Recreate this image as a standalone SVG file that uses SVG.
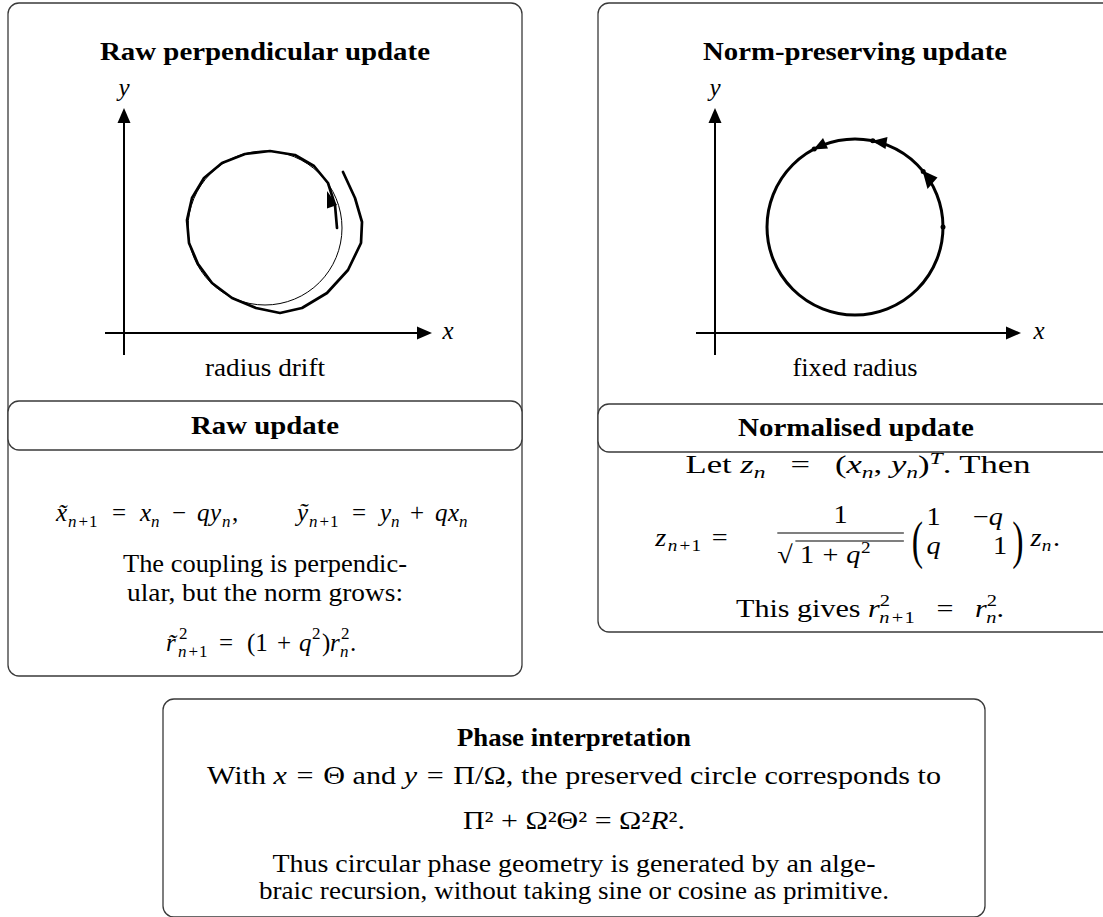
<svg xmlns="http://www.w3.org/2000/svg" width="1103" height="917" viewBox="0 0 1103 917">
<defs>
<style>
.box{fill:#fff;stroke:#3a3a3a;stroke-width:1.3}
.t{font-family:"Liberation Serif","Times New Roman",serif;font-size:25px;fill:#000}
.b{font-weight:bold}
.i{font-style:italic}
.s{font-size:17px}
.ax{stroke:#000;stroke-width:2;fill:none}
.thick{stroke:#000;stroke-width:2.7;fill:none;stroke-linejoin:round;stroke-linecap:round}
.thin{stroke:#000;stroke-width:1;fill:none}
</style>
<marker id="ah" markerUnits="userSpaceOnUse" markerWidth="16" markerHeight="14" refX="5" refY="7" orient="auto">
<path d="M0,0.5 L15,7 L0,13.5 z" fill="#000"/>
</marker>
</defs>
<rect width="1103" height="917" fill="#fff"/>

<g id="panel-raw">
<rect class="box" x="8" y="3" width="514" height="673" rx="11"/>
<text class="t b" x="265" y="60" text-anchor="middle" textLength="330" lengthAdjust="spacingAndGlyphs">Raw perpendicular update</text>
<line class="ax" x1="124" y1="355" x2="124" y2="118" marker-end="url(#ah)"/>
<line class="ax" x1="105" y1="333" x2="422" y2="333" marker-end="url(#ah)"/>
<text class="t i" x="124" y="96" text-anchor="middle">y</text>
<text class="t i" x="448" y="339" text-anchor="middle">x</text>
<circle class="thin" cx="265" cy="228" r="77"/>
<polyline class="thick" points="337,228 335,205 328,183 314,166 295,155 270,151 245,154 222,163 204,178 192,198 187,220 189,243 198,264 212,283 232,298 256,308 280,313 302,308 327,293 348,270 361,243 362,222 355,198 343,172"/>
<polygon points="327,191 337,205 327,208.5" fill="#000"/>
<text class="t" x="265" y="376" text-anchor="middle" textLength="120" lengthAdjust="spacingAndGlyphs">radius drift</text>
</g>

<g id="raw-update">
<rect class="box" x="8" y="401" width="514" height="49" rx="11"/>
<text class="t b" x="265" y="434" text-anchor="middle" textLength="148" lengthAdjust="spacingAndGlyphs">Raw update</text>
<text class="t" y="521"><tspan x="56" class="i">x̃</tspan><tspan x="68" y="527" class="s"><tspan class="i">n</tspan><tspan dx="2">+</tspan><tspan dx="1">1</tspan></tspan><tspan x="112" y="521">=</tspan><tspan x="140" class="i">x</tspan><tspan x="151" y="527" class="s i">n</tspan><tspan x="172" y="521">−</tspan><tspan x="197" class="i">q</tspan><tspan x="210" class="i">y</tspan><tspan x="222" y="527" class="s i">n</tspan><tspan x="232" y="521">,</tspan><tspan x="297" class="i">ỹ</tspan><tspan x="309" y="527" class="s"><tspan class="i">n</tspan><tspan dx="2">+</tspan><tspan dx="1">1</tspan></tspan><tspan x="352" y="521">=</tspan><tspan x="380" class="i">y</tspan><tspan x="391" y="527" class="s i">n</tspan><tspan x="410" y="521">+</tspan><tspan x="435" class="i">q</tspan><tspan x="448" class="i">x</tspan><tspan x="459" y="527" class="s i">n</tspan></text>
<text class="t" x="265" y="572" text-anchor="middle" textLength="284" lengthAdjust="spacingAndGlyphs">The coupling is perpendic-</text>
<text class="t" x="265" y="601" text-anchor="middle" textLength="276" lengthAdjust="spacingAndGlyphs">ular, but the norm grows:</text>
<text class="t" y="651"><tspan x="166" class="i">r̃</tspan><tspan x="179" y="639" class="s">2</tspan><tspan x="178" y="657" class="s"><tspan class="i">n</tspan><tspan dx="2">+</tspan><tspan dx="1">1</tspan></tspan><tspan x="219" y="651">=</tspan><tspan x="247">(1</tspan><tspan x="277">+</tspan><tspan x="299" class="i">q</tspan><tspan x="312" y="639" class="s">2</tspan><tspan x="322" y="651">)</tspan><tspan x="330" class="i">r</tspan><tspan x="341" y="639" class="s">2</tspan><tspan x="340" y="657" class="s i">n</tspan><tspan x="350" y="651">.</tspan></text>
</g>

<g id="panel-norm">
<rect class="box" x="598" y="3" width="520" height="629" rx="11"/>
<text class="t b" x="855" y="60" text-anchor="middle" textLength="304" lengthAdjust="spacingAndGlyphs">Norm-preserving update</text>
<line class="ax" x1="715" y1="355" x2="715" y2="118" marker-end="url(#ah)"/>
<line class="ax" x1="696" y1="333" x2="1011" y2="333" marker-end="url(#ah)"/>
<text class="t i" x="715" y="96" text-anchor="middle">y</text>
<text class="t i" x="1039" y="339" text-anchor="middle">x</text>
<circle cx="855" cy="227" r="88" fill="none" stroke="#000" stroke-width="3"/>
<polygon points="922.5,170.5 937.5,177.5 927.5,189" fill="#000"/>
<polygon points="872,141 887.5,137 885.5,149" fill="#000"/>
<polygon points="813.5,149.5 828,148.5 823,138" fill="#000"/>
<circle cx="943" cy="227" r="2.5" fill="#000"/>
<circle cx="923.2" cy="171.4" r="2.5" fill="#000"/>
<circle cx="872.8" cy="140.8" r="2.5" fill="#000"/>
<circle cx="814.2" cy="149" r="2.5" fill="#000"/>
<text class="t" x="855" y="376" text-anchor="middle" textLength="125" lengthAdjust="spacingAndGlyphs">fixed radius</text>
</g>

<g id="normalised-update">
<rect class="box" x="598" y="404" width="520" height="48" rx="11"/>
<text class="t b" x="856" y="436" text-anchor="middle" textLength="236" lengthAdjust="spacingAndGlyphs">Normalised update</text>
<text class="t" x="858" y="473" text-anchor="middle" textLength="345" lengthAdjust="spacingAndGlyphs">Let <tspan class="i">z</tspan><tspan class="s i" dy="5">n</tspan><tspan dy="-5" dx="18">=</tspan><tspan dx="18">(</tspan><tspan class="i">x</tspan><tspan class="s i" dy="5">n</tspan><tspan dy="-5">, </tspan><tspan class="i">y</tspan><tspan class="s i" dy="5">n</tspan><tspan dy="-5">)</tspan><tspan class="s i" dy="-9">T</tspan><tspan dy="9">. Then</tspan></text>
<g transform="translate(766,0) scale(1.13,1) translate(-766,0)">
<text class="t" y="546"><tspan x="668" class="i">z</tspan><tspan x="679" y="551" class="s"><tspan class="i">n</tspan><tspan dx="2">+</tspan><tspan dx="1">1</tspan></tspan><tspan x="718" y="546">=</tspan></text>
<text class="t" x="832" y="523" text-anchor="middle">1</text>
<line x1="776" y1="533" x2="888" y2="533" stroke="#000" stroke-width="1.1"/>
<text class="t" x="776" y="563">√</text>
<line x1="792" y1="541" x2="888" y2="541" stroke="#000" stroke-width="1.1"/>
<text class="t" y="563"><tspan x="796">1</tspan><tspan x="816">+</tspan><tspan x="837" class="i">q</tspan><tspan x="850" y="553" class="s">2</tspan></text>
<text class="t" transform="translate(895,558) scale(1,1.75)" style="font-size:30px">(</text>
<text class="t" x="908" y="525">1</text>
<text class="t" x="949" y="525">−<tspan class="i">q</tspan></text>
<text class="t i" x="908" y="554">q</text>
<text class="t" x="967" y="554">1</text>
<text class="t" transform="translate(984,558) scale(1,1.75)" style="font-size:30px">)</text>
<text class="t" y="546"><tspan x="1000" class="i">z</tspan><tspan x="1010" y="551" class="s i">n</tspan><tspan x="1020" y="546">.</tspan></text>
</g>
<text class="t" x="870" y="617" text-anchor="middle" textLength="268" lengthAdjust="spacingAndGlyphs">This gives <tspan class="i">r</tspan><tspan class="s" dy="-11">2</tspan><tspan class="s" dx="-9" dy="17"><tspan class="i">n</tspan><tspan dx="2">+</tspan><tspan dx="1">1</tspan></tspan><tspan dy="-6" dx="18">=</tspan><tspan dx="18" class="i">r</tspan><tspan class="s" dy="-11">2</tspan><tspan class="s i" dx="-9" dy="17">n</tspan><tspan dy="-6">.</tspan></text>
</g>

<g id="phase">
<rect class="box" x="163" y="699" width="822" height="218" rx="11"/>
<text class="t b" x="574" y="746" text-anchor="middle" textLength="234" lengthAdjust="spacingAndGlyphs">Phase interpretation</text>
<text class="t" x="574" y="784" text-anchor="middle" textLength="734" lengthAdjust="spacingAndGlyphs">With <tspan class="i">x</tspan><tspan dx="8">=</tspan><tspan dx="8">Θ and </tspan><tspan class="i">y</tspan><tspan dx="8">=</tspan><tspan dx="8">Π/Ω, the preserved circle corresponds to</tspan></text>
<text class="t" x="574" y="829" text-anchor="middle" textLength="222" lengthAdjust="spacingAndGlyphs">Π² + Ω²Θ² = Ω²<tspan class="i">R</tspan>².</text>
<text class="t" x="574" y="872" text-anchor="middle" textLength="603" lengthAdjust="spacingAndGlyphs">Thus circular phase geometry is generated by an alge-</text>
<text class="t" x="574" y="899" text-anchor="middle" textLength="630" lengthAdjust="spacingAndGlyphs">braic recursion, without taking sine or cosine as primitive.</text>
</g>
</svg>
